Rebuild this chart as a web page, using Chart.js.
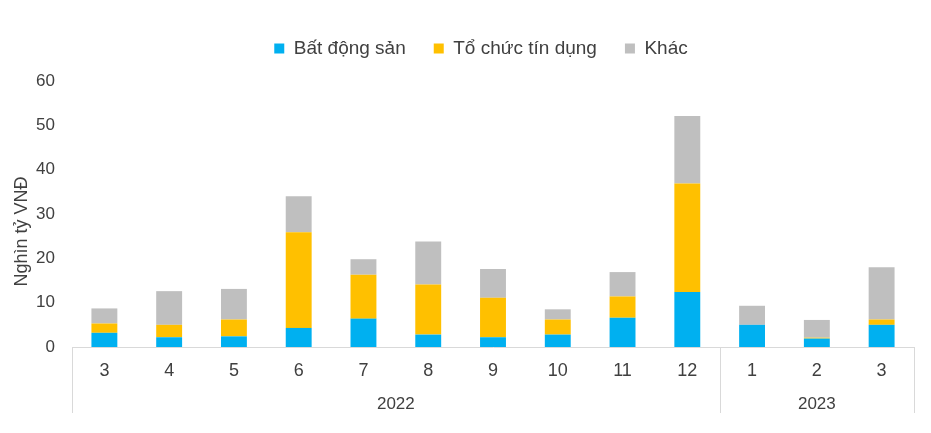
<!DOCTYPE html>
<html>
<head>
<meta charset="utf-8">
<script src="https://cdn.jsdelivr.net/npm/chart.js@4.4.0/dist/chart.umd.min.js"></script>
<style>
  html, body { margin: 0; padding: 0; background: #fff; }
  #wrap { width: 931px; height: 433px; }
</style>
</head>
<body>
<div id="wrap"><canvas id="myChart" width="931" height="433"></canvas></div>
<script>
'use strict';

// categories: month + year groups
var months = ['3', '4', '5', '6', '7', '8', '9', '10', '11', '12', '1', '2', '3'];
var yearGroups = ['2022', '2023'];
var yearSpans = [10, 3];  // months in each year group

// series values (nghin ty VND)
var batDongSan = [3.2, 2.2, 2.4, 4.3, 6.4, 2.8, 2.2, 2.8, 6.6, 12.4, 5.0, 1.9, 5.0];
var toChucTinDung = [2.1, 2.8, 3.8, 21.6, 9.9, 11.3, 8.9, 3.4, 4.8, 24.5, 0, 0.2, 1.2];
var khac = [3.4, 7.6, 6.9, 8.1, 3.5, 9.7, 6.5, 2.3, 5.5, 15.2, 4.3, 4.0, 11.8];

// y ticks
var yTicks = [0, 10, 20, 30, 40, 50, 60];

var textColor = '#404040';
var lineColor = '#D9D9D9';
var fontFamily = 'Arial, "Liberation Sans", sans-serif';

// plugin to draw year labels and group separators under the month labels
var yearGroupPlugin = {
  id: 'yearGroups',
  afterDraw: function (chart) {
    var ctx = chart.ctx;
    var x = chart.scales.x;
    var area = chart.chartArea;
    var bottom = 413;
    var step = x.getPixelForValue(1) - x.getPixelForValue(0);
    ctx.save();
    ctx.strokeStyle = lineColor;
    ctx.lineWidth = 1;
    var start = 0;
    var edges = [area.left];
    for (var i = 0; i < yearGroups.length; i++) {
      var end = start + yearSpans[i] - 1;
      var right = x.getPixelForValue(end) + step / 2;
      edges.push(right);
      var left = x.getPixelForValue(start) - step / 2;
      ctx.fillStyle = textColor;
      ctx.font = '17px ' + fontFamily;
      ctx.textAlign = 'center';
      ctx.textBaseline = 'middle';
      ctx.fillText(yearGroups[i], (left + right) / 2, 404);
      start = end + 1;
    }
    edges.forEach(function (ex) {
      var px = Math.round(ex) + 0.5;
      ctx.beginPath();
      ctx.moveTo(px, area.bottom);
      ctx.lineTo(px, bottom);
      ctx.stroke();
    });
    ctx.restore();
  }
};

// make the legend a bit taller and nudge it right
var legendNudge = {
  id: 'legendNudge',
  beforeLayout: function (chart) {
    var lg = chart.legend;
    if (lg && !lg._patched) {
      var fit = lg.fit;
      lg.fit = function () { fit.call(this); this.height += 13; };
      lg._patched = true;
    }
  },
  afterLayout: function (chart) {
    chart.legend.left += 24;
    chart.legend.right += 24;
  }
};

var ctx = document.getElementById('myChart').getContext('2d');
var chart = new Chart(ctx, {
  type: 'bar',
  data: {
    labels: months,
    datasets: [{
      label: 'Bất động sản',
      backgroundColor: '#00B0F0',
      data: batDongSan
    },
    {
      label: 'Tổ chức tín dụng',
      backgroundColor: '#FFC000',
      data: toChucTinDung
    },
    {
      label: 'Khác',
      backgroundColor: '#BFBFBF',
      data: khac
    }]
  },
  options: {
    responsive: false,
    animation: false,
    layout: {
      padding: { top: 11, right: 17, left: 0, bottom: 0 }
    },
    datasets: {
      bar: { categoryPercentage: 1, barPercentage: 0.4 }
    },
    plugins: {
      legend: {
        position: 'top',
        labels: {
          color: textColor,
          font: { size: 19, family: fontFamily },
          boxWidth: 10,
          boxHeight: 10,
          padding: 28
        }
      },
      tooltip: { enabled: false }
    },
    scales: {
      x: {
        stacked: true,
        grid: { display: false, drawTicks: false },
        border: { display: true, color: lineColor, width: 1 },
        ticks: {
          color: textColor,
          font: { size: 18, family: fontFamily },
          padding: 13,
          maxRotation: 0
        },
        afterFit: function (scale) { scale.height = 86; }
      },
      y: {
        stacked: true,
        min: 0,
        max: 60,
        afterBuildTicks: function (scale) {
          scale.ticks = yTicks.map(function (v) { return { value: v }; });
        },
        grid: { display: false, drawTicks: false },
        border: { display: false },
        ticks: {
          color: textColor,
          font: { size: 17, family: fontFamily },
          padding: 17
        },
        title: {
          display: true,
          text: 'Nghìn tỷ VNĐ' + '\u00A0'.repeat(7),
          color: textColor,
          font: { size: 18, family: fontFamily },
          padding: { top: 11, bottom: 0 }
        },
        afterFit: function (scale) { scale.width = 72; }
      }
    }
  },
  plugins: [yearGroupPlugin, legendNudge]
});
</script>
</body>
</html>
